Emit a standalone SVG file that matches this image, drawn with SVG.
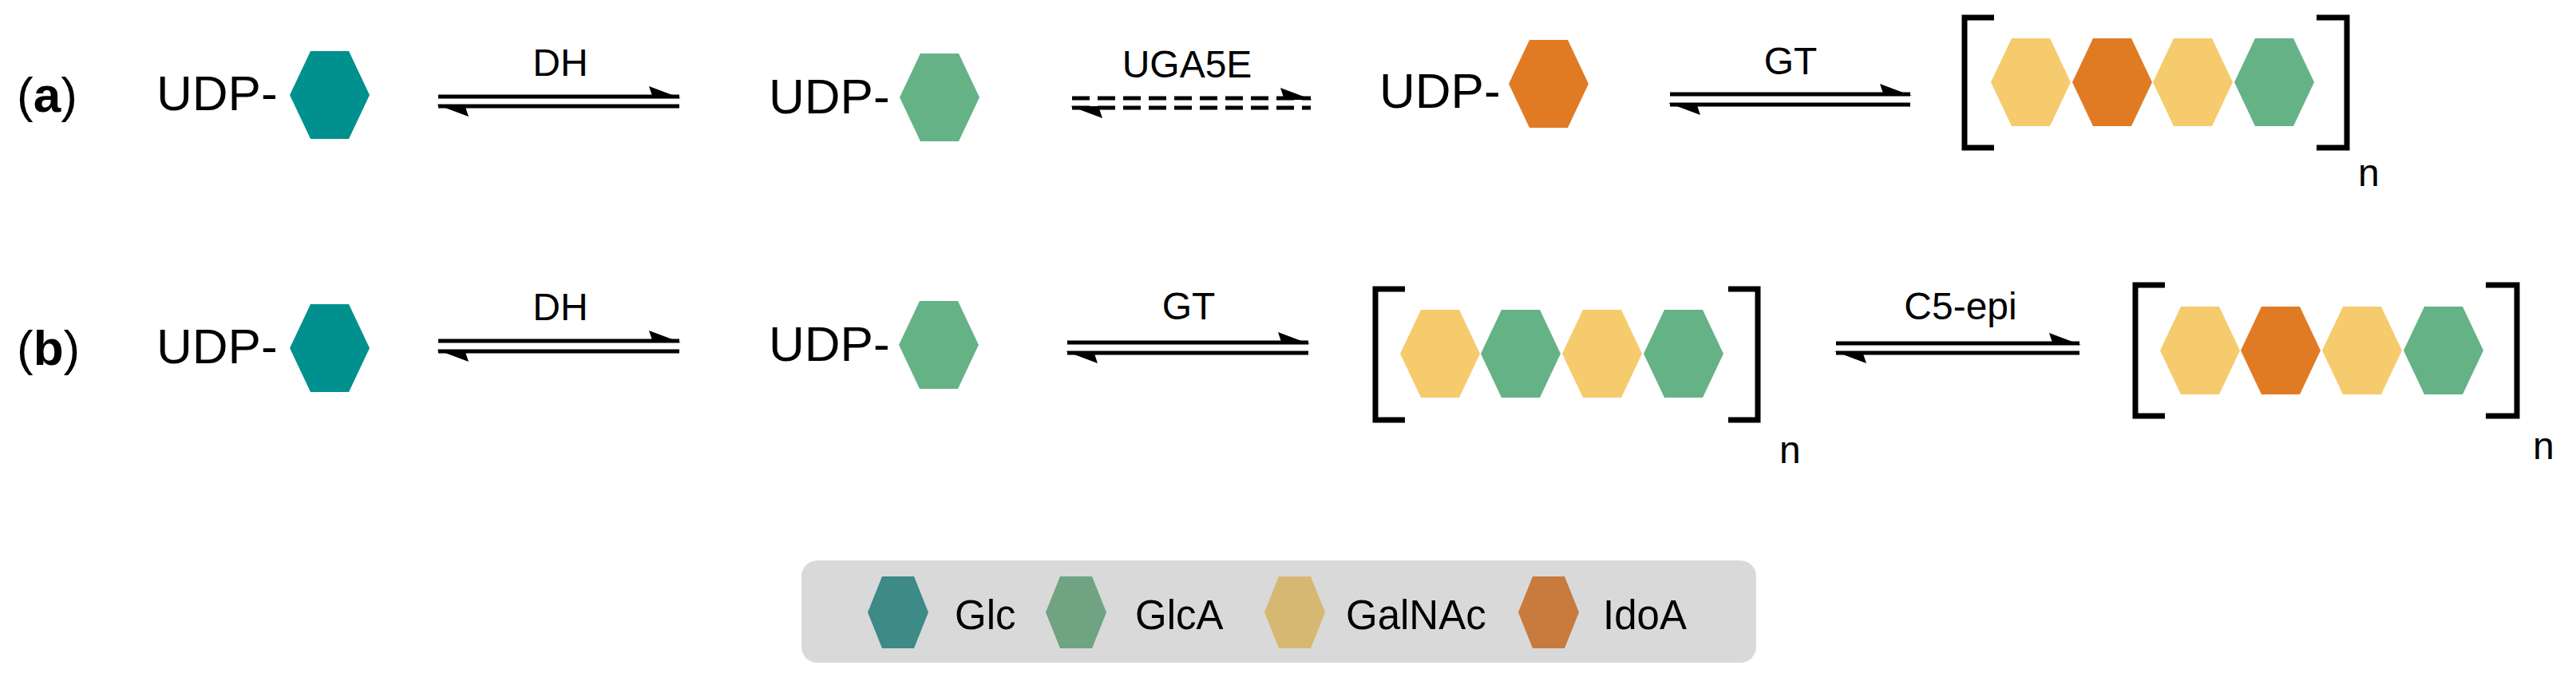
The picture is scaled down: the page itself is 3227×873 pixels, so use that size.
<svg xmlns="http://www.w3.org/2000/svg" width="3227" height="873" viewBox="0 0 3227 873">
<style>
text{font-family:"Liberation Sans",Arial,sans-serif;fill:#000}
.big{font-size:62px}.lbl{font-size:48px}.n{font-size:48px}.leg{font-size:51px}
.ln{stroke:#000;stroke-width:5;fill:none}
.dash{stroke-dasharray:22 10}
.br{stroke:#000;stroke-width:7;fill:none}
.glc{fill:#00918e}.glca{fill:#66b287}.gal{fill:#f5cb6e}.ido{fill:#e07b24}
</style>
<defs>
<polygon id="hex" points="-50,0 -24,-55 24,-55 50,0 24,55 -24,55"/>
<polygon id="lhex" points="-38,0 -20,-45 20,-45 38,0 20,45 -20,45"/>
</defs>
<g id="labels">
<text class="big" x="21" y="140">(<tspan font-weight="bold">a</tspan>)</text>
<text class="big" x="21" y="457">(<tspan font-weight="bold">b</tspan>)</text>
</g>
<g id="a1"><text class="big" x="196" y="138">UDP-</text><use href="#hex" class="glc" x="413" y="119"/></g>
<g id="a2"><text class="big" x="963" y="142">UDP-</text><use href="#hex" class="glca" x="1177" y="122"/></g>
<g id="a3"><text class="big" x="1728" y="135">UDP-</text><use href="#hex" class="ido" x="1940" y="105"/></g>
<g id="a4">
<use href="#hex" class="gal" x="2544" y="103"/><use href="#hex" class="ido" x="2646" y="103"/><use href="#hex" class="gal" x="2747" y="103"/><use href="#hex" class="glca" x="2849" y="103"/>
<path class="br" d="M2498 22 H2461 V185 H2498 M2902 22 H2940 V185 H2902"/>
<text class="n" x="2954" y="233">n</text>
</g>
<g id="b1"><text class="big" x="196" y="455">UDP-</text><use href="#hex" class="glc" x="413" y="436"/></g>
<g id="b2"><text class="big" x="963" y="452">UDP-</text><use href="#hex" class="glca" x="1176" y="432"/></g>
<g id="b3">
<use href="#hex" class="gal" x="1804" y="443"/><use href="#hex" class="glca" x="1905" y="443"/><use href="#hex" class="gal" x="2007" y="443"/><use href="#hex" class="glca" x="2109" y="443"/>
<path class="br" d="M1760 362 H1723 V526 H1760 M2165 362 H2202 V526 H2165"/>
<text class="n" x="2229" y="580">n</text>
</g>
<g id="b4">
<use href="#hex" class="gal" x="2756" y="439"/><use href="#hex" class="ido" x="2857" y="439"/><use href="#hex" class="gal" x="2959" y="439"/><use href="#hex" class="glca" x="3061" y="439"/>
<path class="br" d="M2712 357 H2675 V521 H2712 M3114 357 H3153 V521 H3114"/>
<text class="n" x="3173" y="575">n</text>
</g>
<g id="connectors">
<path class="ln" d="M549 121 H851 M549 133 H851"/><path d="M853 123 L813 108 L818 123 Z M547 131 L587 146 L582 131 Z"/>
<text class="lbl" x="702" y="95" text-anchor="middle">DH</text>
<path class="ln dash" d="M1343 123 H1642 M1343 135 H1642"/><path d="M1644 125 L1604 110 L1609 125 Z M1341 133 L1381 148 L1376 133 Z"/>
<text class="lbl" x="1487" y="97" text-anchor="middle">UGA5E</text>
<path class="ln" d="M2092 118 H2393 M2092 131 H2393"/><path d="M2395 120 L2355 105 L2360 120 Z M2090 129 L2130 144 L2125 129 Z"/>
<text class="lbl" x="2243" y="93" text-anchor="middle">GT</text>
<path class="ln" d="M549 427 H851 M549 440 H851"/><path d="M853 429 L813 414 L818 429 Z M547 438 L587 453 L582 438 Z"/>
<text class="lbl" x="702" y="401" text-anchor="middle">DH</text>
<path class="ln" d="M1337 429 H1639 M1337 442 H1639"/><path d="M1641 431 L1601 416 L1606 431 Z M1335 440 L1375 455 L1370 440 Z"/>
<text class="lbl" x="1489" y="400" text-anchor="middle">GT</text>
<path class="ln" d="M2300 430 H2605 M2300 442 H2605"/><path d="M2607 432 L2567 417 L2572 432 Z M2298 440 L2338 455 L2333 440 Z"/>
<text class="lbl" x="2456" y="400" text-anchor="middle">C5-epi</text>
</g>
<g id="legend">
<rect x="1004" y="702" width="1196" height="128" rx="20" fill="#d9d9d9"/>
<use href="#lhex" fill="#3d8a87" x="1125" y="767"/><text class="leg" x="1196" y="788">Glc</text>
<use href="#lhex" fill="#6fa382" x="1348" y="767"/><text class="leg" x="1422" y="788">GlcA</text>
<use href="#lhex" fill="#d6b872" x="1622" y="767"/><text class="leg" x="1686" y="788">GalNAc</text>
<use href="#lhex" fill="#c77b3f" x="1940" y="767"/><text class="leg" x="2008" y="788">IdoA</text>
</g>
</svg>
